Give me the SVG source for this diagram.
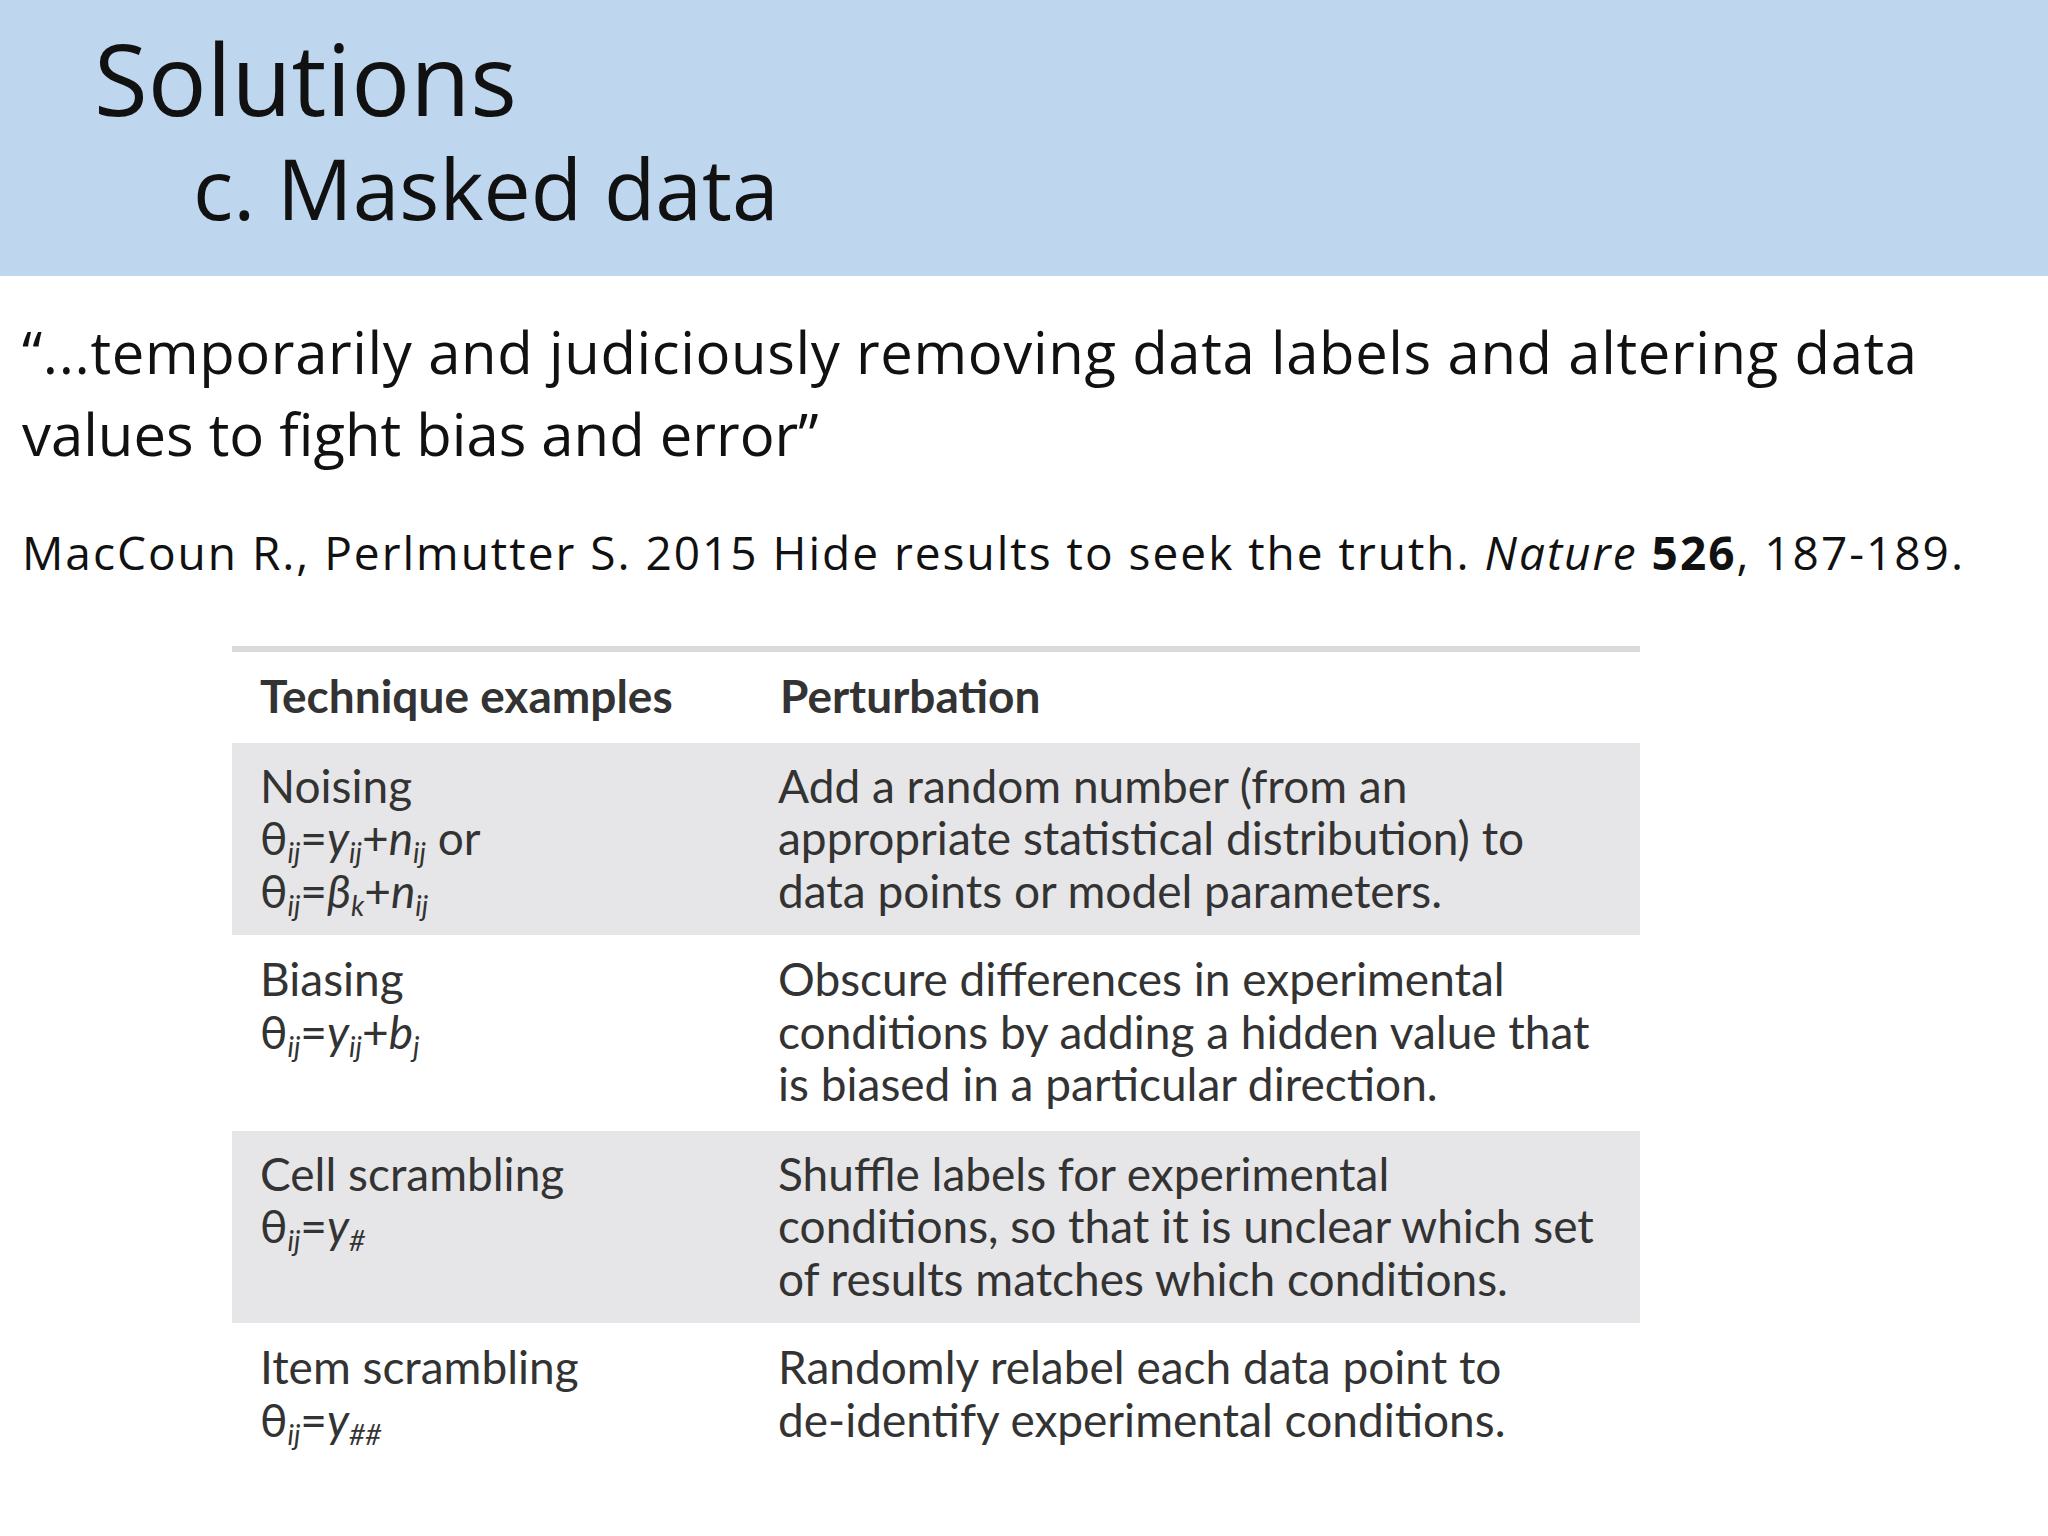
<svg xmlns="http://www.w3.org/2000/svg" width="2048" height="1536" viewBox="0 0 2048 1536">
<style>
.h{font-family:"Open Sans","Noto Sans",sans-serif;fill:#111}
.t{font-family:"Lato","Open Sans",sans-serif;font-size:46px;fill:#333}
.b{font-weight:bold}
.s{font-size:28px;font-style:italic}
.i{font-style:italic}
</style>
<rect width="2048" height="1536" fill="#fff"/>
<g id="header">
<rect x="0" y="0" width="2048" height="276" fill="#BED6EE"/>
<text class="h" x="94" y="116" font-size="98">Solutions</text>
<text class="h" x="193" y="220" font-size="84">c. Masked data</text>
</g>
<g id="quote">
<text class="h" x="22" y="374" font-size="58" textLength="1895">“...temporarily and judiciously removing data labels and altering data</text>
<text class="h" x="22" y="456" font-size="58">values to fight bias and error”</text>
<text class="h" x="22" y="570" font-size="46" textLength="1941">MacCoun R., Perlmutter S. 2015 Hide results to seek the truth. <tspan font-style="italic">Nature</tspan> <tspan font-weight="bold">526</tspan>, 187-189.</text>
</g>
<g id="table">
<rect x="232" y="646" width="1408" height="6" fill="#DADADA"/>
<rect x="232" y="743" width="1408" height="192" fill="#E6E6E8"/>
<rect x="232" y="1131" width="1408" height="192" fill="#E6E6E8"/>
<text class="t b" x="260" y="713">Technique examples</text>
<text class="t b" x="780" y="713">Perturbation</text>
<text class="t" x="260" y="803">Noising</text>
<text class="t" x="260" y="855">θ<tspan class="s" dy="8">ij</tspan><tspan dy="-8">=</tspan><tspan class="i">y</tspan><tspan class="s" dy="8">ij</tspan><tspan dy="-8">+</tspan><tspan class="i">n</tspan><tspan class="s" dy="8">ij</tspan><tspan dy="-8"> or</tspan></text>
<text class="t" x="260" y="908">θ<tspan class="s" dy="8">ij</tspan><tspan dy="-8">=</tspan><tspan class="i">β</tspan><tspan class="s" dy="8">k</tspan><tspan dy="-8">+</tspan><tspan class="i">n</tspan><tspan class="s" dy="8">ij</tspan></text>
<text class="t" x="778" y="803">Add a random number (from an</text>
<text class="t" x="778" y="855">appropriate statistical distribution) to</text>
<text class="t" x="778" y="908">data points or model parameters.</text>
<text class="t" x="260" y="996">Biasing</text>
<text class="t" x="260" y="1049">θ<tspan class="s" dy="8">ij</tspan><tspan dy="-8">=</tspan><tspan class="i">y</tspan><tspan class="s" dy="8">ij</tspan><tspan dy="-8">+</tspan><tspan class="i">b</tspan><tspan class="s" dy="8">j</tspan></text>
<text class="t" x="778" y="996">Obscure differences in experimental</text>
<text class="t" x="778" y="1049">conditions by adding a hidden value that</text>
<text class="t" x="778" y="1101">is biased in a particular direction.</text>
<text class="t" x="260" y="1191">Cell scrambling</text>
<text class="t" x="260" y="1243">θ<tspan class="s" dy="8">ij</tspan><tspan dy="-8">=</tspan><tspan class="i">y</tspan><tspan class="s" dy="8">#</tspan></text>
<text class="t" x="778" y="1191">Shuffle labels for experimental</text>
<text class="t" x="778" y="1243">conditions, so that it is unclear which set</text>
<text class="t" x="778" y="1296">of results matches which conditions.</text>
<text class="t" x="260" y="1384">Item scrambling</text>
<text class="t" x="260" y="1437">θ<tspan class="s" dy="8">ij</tspan><tspan dy="-8">=</tspan><tspan class="i">y</tspan><tspan class="s" dy="8">##</tspan></text>
<text class="t" x="778" y="1384">Randomly relabel each data point to</text>
<text class="t" x="778" y="1437">de-identify experimental conditions.</text>
</g>
</svg>
